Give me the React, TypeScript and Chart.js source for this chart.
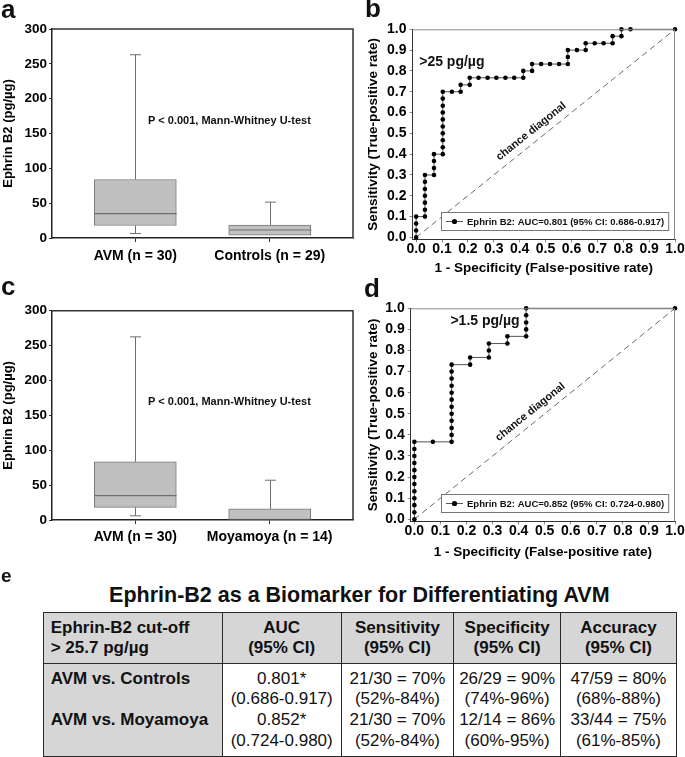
import React, { useEffect, useRef } from 'react';
import { Chart, registerables } from 'chart.js';

Chart.register(...registerables);

const FONT = 'Arial, "Liberation Sans", Helvetica, sans-serif';

// ---------- Panels a & c : box plots ----------
const boxTicks = [0, 50, 100, 150, 200, 250, 300];
const groupPositions = [1, 2];

const groupsA = ['AVM (n = 30)', 'Controls (n = 29)'];
const minA = [6.5, 4];
const q1A = [18, 4];
const medianA = [35, 11.5];
const q3A = [84, 18.5];
const maxA = [263, 51.5];

const groupsC = ['AVM (n = 30)', 'Moyamoya (n = 14)'];
const minC = [6, 0];
const q1C = [18, 0];
const medianC: (number | null)[] = [35, null];
const q3C = [83.5, 16];
const maxC = [262.5, 57];

const pValueText = 'P < 0.001, Mann-Whitney U-test';
const pValueAt = [1.7, 168.5];

// ---------- Panels b & d : ROC curves ----------
const rocTicks = [0, 0.1, 0.2, 0.3, 0.4, 0.5, 0.6, 0.7, 0.8, 0.9, 1.0];

const rocB_fpr = [
  0, 0, 0, 0,
  0.034, 0.034, 0.034, 0.034, 0.034, 0.034, 0.034,
  0.069, 0.069, 0.069, 0.069,
  0.103, 0.103, 0.103, 0.103, 0.103, 0.103, 0.103, 0.103, 0.103, 0.103,
  0.138, 0.172, 0.172,
  0.207, 0.207,
  0.241, 0.276, 0.310, 0.345, 0.379, 0.414, 0.414,
  0.448, 0.448,
  0.483, 0.517, 0.552, 0.586, 0.586, 0.586,
  0.621, 0.655, 0.655,
  0.690, 0.724, 0.759, 0.759,
  0.793, 0.793,
  0.828, 1.0,
];
const rocB_tpr = [
  0, 0.033, 0.067, 0.1,
  0.1, 0.133, 0.167, 0.2, 0.233, 0.267, 0.3,
  0.3, 0.333, 0.367, 0.4,
  0.4, 0.433, 0.467, 0.5, 0.533, 0.567, 0.6, 0.633, 0.667, 0.7,
  0.7, 0.7, 0.733,
  0.733, 0.767,
  0.767, 0.767, 0.767, 0.767, 0.767, 0.767, 0.8,
  0.8, 0.833,
  0.833, 0.833, 0.833, 0.833, 0.867, 0.9,
  0.9, 0.9, 0.933,
  0.933, 0.933, 0.933, 0.967,
  0.967, 1.0,
  1.0, 1.0,
];

const rocD_fpr = [
  0, 0, 0, 0, 0, 0, 0, 0, 0, 0, 0, 0,
  0.071, 0.143,
  0.143, 0.143, 0.143, 0.143, 0.143, 0.143, 0.143, 0.143, 0.143, 0.143, 0.143,
  0.214, 0.214,
  0.286, 0.286, 0.286,
  0.357, 0.357,
  0.429, 0.429, 0.429, 0.429, 0.429,
  1.0,
];
const rocD_tpr = [
  0, 0.033, 0.067, 0.1, 0.133, 0.167, 0.2, 0.233, 0.267, 0.3, 0.333, 0.367,
  0.367, 0.367,
  0.4, 0.433, 0.467, 0.5, 0.533, 0.567, 0.6, 0.633, 0.667, 0.7, 0.733,
  0.733, 0.767,
  0.767, 0.8, 0.833,
  0.833, 0.867,
  0.867, 0.9, 0.933, 0.967, 1.0,
  1.0,
];

const cutoffB = '>25 pg/µg';
const cutoffBAt = [0.138, 0.84];
const cutoffD = '>1.5 pg/µg';
const cutoffDAt = [0.271, 0.94];
const legendB = 'Ephrin B2: AUC=0.801 (95% CI: 0.686-0.917)';
const legendD = 'Ephrin B2: AUC=0.852 (95% CI: 0.724-0.980)';
const diagLabel = 'chance diagonal';
const diagLabelT = 0.47;

// ---------- Panel e : table ----------
const tableTitle = 'Ephrin-B2 as a Biomarker for Differentiating AVM';
const headerLines = [
  ['Ephrin-B2 cut-off', '> 25.7 pg/µg'],
  ['AUC', '(95% CI)'],
  ['Sensitivity', '(95% CI)'],
  ['Specificity', '(95% CI)'],
  ['Accuracy', '(95% CI)'],
];
const rowLabels = ['AVM vs. Controls', 'AVM vs. Moyamoya'];
const aucValues = ['0.801*', '0.852*'];
const aucCI = ['(0.686-0.917)', '(0.724-0.980)'];
const sensValues = ['21/30 = 70%', '21/30 = 70%'];
const sensCI = ['(52%-84%)', '(52%-84%)'];
const specValues = ['26/29 = 90%', '12/14 = 86%'];
const specCI = ['(74%-96%)', '(60%-95%)'];
const accValues = ['47/59 = 80%', '33/44 = 75%'];
const accCI = ['(68%-88%)', '(61%-85%)'];

// ---------- chart builders ----------
type Geom = {
  left: number; top: number; width: number; height: number;
  padTop: number; padRight: number; yAxisW: number; xAxisH: number;
  xTitlePad?: number; xTickPad: number;
};

const geomA: Geom = { left: 0, top: 0, width: 360, height: 280, padTop: 29, padRight: 7, yAxisW: 52, xAxisH: 42, xTickPad: 7 };
const geomC: Geom = { left: 0, top: 282, width: 360, height: 280, padTop: 28.7, padRight: 7, yAxisW: 52, xAxisH: 42, xTickPad: 6 };
const geomB: Geom = { left: 345, top: 0, width: 340, height: 290, padTop: 29.3, padRight: 10, yAxisW: 67.5, xAxisH: 50.5, xTitlePad: 13.5, xTickPad: 0 };
const geomD: Geom = { left: 345, top: 280, width: 340, height: 290, padTop: 28.3, padRight: 10, yAxisW: 65.7, xAxisH: 48.6, xTitlePad: 10, xTickPad: 0 };

function boxPlugin(mins: number[], q1s: number[], meds: (number | null)[], q3s: number[], maxs: number[]) {
  return {
    id: 'boxExtras',
    afterDatasetsDraw(chart: any) {
      const { ctx, scales } = chart;
      const x = scales.x, y = scales.y;
      const meta = chart.getDatasetMeta(0);
      ctx.save();
      ctx.strokeStyle = '#6e6e6e';
      ctx.lineWidth = 1;
      groupPositions.forEach((p, i) => {
        const px = Math.round(x.getPixelForValue(p)) + 0.5;
        const half = meta.data[i] ? meta.data[i].width / 2 : 41;
        const cap = 5.5;
        ctx.beginPath();
        // upper whisker
        ctx.moveTo(px, y.getPixelForValue(q3s[i]));
        ctx.lineTo(px, y.getPixelForValue(maxs[i]));
        ctx.moveTo(px - cap, y.getPixelForValue(maxs[i]));
        ctx.lineTo(px + cap, y.getPixelForValue(maxs[i]));
        // lower whisker
        if (mins[i] < q1s[i]) {
          ctx.moveTo(px, y.getPixelForValue(q1s[i]));
          ctx.lineTo(px, y.getPixelForValue(mins[i]));
          ctx.moveTo(px - cap, y.getPixelForValue(mins[i]));
          ctx.lineTo(px + cap, y.getPixelForValue(mins[i]));
        }
        ctx.stroke();
        const m = meds[i];
        if (m !== null && m !== undefined) {
          ctx.beginPath();
          ctx.lineWidth = 1.2;
          ctx.moveTo(px - half, y.getPixelForValue(m));
          ctx.lineTo(px + half, y.getPixelForValue(m));
          ctx.stroke();
          ctx.lineWidth = 1;
        }
      });
      ctx.restore();
    },
    afterDraw(chart: any) {
      const { ctx, chartArea: a, scales } = chart;
      ctx.save();
      ctx.strokeStyle = '#333';
      ctx.lineWidth = 1.5;
      ctx.beginPath();
      ctx.moveTo(a.left, a.top);
      ctx.lineTo(a.right, a.top);
      ctx.lineTo(a.right, a.bottom);
      ctx.stroke();
      ctx.fillStyle = '#111';
      ctx.font = `bold 11px ${FONT}`;
      ctx.textAlign = 'center';
      ctx.textBaseline = 'middle';
      ctx.fillText(pValueText, scales.x.getPixelForValue(pValueAt[0]), scales.y.getPixelForValue(pValueAt[1]));
      ctx.restore();
    },
  };
}

function makeBoxConfig(groups: string[], mins: number[], q1s: number[], meds: (number | null)[], q3s: number[], maxs: number[], g: Geom) {
  return {
    type: 'bar',
    data: {
      datasets: [
        {
          data: groupPositions.map((p, i) => ({ x: p, y: [q1s[i], q3s[i]] })),
          backgroundColor: '#c0c0c0',
          borderColor: '#7a7a7a',
          borderWidth: 1,
          borderSkipped: false,
          barThickness: 82,
        },
      ],
    },
    options: {
      responsive: false,
      animation: false,
      layout: { padding: { top: g.padTop, right: g.padRight, left: 0, bottom: 0 } },
      plugins: { legend: { display: false }, tooltip: { enabled: false } },
      scales: {
        x: {
          type: 'linear',
          min: 0.38,
          max: 2.62,
          offset: false,
          afterBuildTicks: (s: any) => { s.ticks = groupPositions.map((v) => ({ value: v })); },
          afterFit: (s: any) => { s.height = g.xAxisH; },
          ticks: {
            callback: (_v: any, i: number) => groups[i],
            font: { family: FONT, size: 14, weight: 'bold', lineHeight: 1 },
            color: '#000',
            padding: g.xTickPad,
            maxRotation: 0,
            autoSkip: false,
          },
          grid: { drawOnChartArea: false, drawTicks: true, tickLength: 4, color: '#333', offset: false },
          border: { color: '#222', width: 1.5 },
        },
        y: {
          min: 0,
          max: 300,
          afterBuildTicks: (s: any) => { s.ticks = boxTicks.map((v) => ({ value: v })); },
          afterFit: (s: any) => { s.width = g.yAxisW; },
          ticks: { font: { family: FONT, size: 13.5, weight: 'bold' }, color: '#000', padding: 2 },
          grid: { drawOnChartArea: false, drawTicks: true, tickLength: 3, color: '#333' },
          border: { color: '#222', width: 1.5 },
          title: {
            display: true,
            text: 'Ephrin B2 (pg/µg)',
            font: { family: FONT, size: 13, weight: 'bold' },
            color: '#000',
            padding: { top: 0.5, bottom: 0 },
          },
        },
      },
    },
    plugins: [boxPlugin(mins, q1s, meds, q3s, maxs)],
  };
}

function rocPlugin(cutoffText: string, cutoffAt: number[], legendText: string) {
  return {
    id: 'rocExtras',
    afterDraw(chart: any) {
      const { ctx, chartArea: a, scales } = chart;
      const x = scales.x, y = scales.y;
      ctx.save();
      // top & right frame
      ctx.strokeStyle = '#8c8c8c';
      ctx.lineWidth = 1;
      ctx.beginPath();
      ctx.moveTo(a.left, a.top + 0.5);
      ctx.lineTo(a.right - 0.5, a.top + 0.5);
      ctx.lineTo(a.right - 0.5, a.bottom);
      ctx.stroke();
      // cut-off label
      ctx.fillStyle = '#111';
      ctx.font = `bold 14px ${FONT}`;
      ctx.textAlign = 'center';
      ctx.textBaseline = 'middle';
      ctx.fillText(cutoffText, x.getPixelForValue(cutoffAt[0]), y.getPixelForValue(cutoffAt[1]));
      // chance diagonal label
      const x0 = x.getPixelForValue(0), y0 = y.getPixelForValue(0);
      const x1 = x.getPixelForValue(1), y1 = y.getPixelForValue(1);
      const ang = Math.atan2(y1 - y0, x1 - x0);
      ctx.save();
      ctx.translate(x0 + (x1 - x0) * diagLabelT, y0 + (y1 - y0) * diagLabelT);
      ctx.rotate(ang);
      ctx.font = `bold 11px ${FONT}`;
      ctx.fillText(diagLabel, 0, -10.5);
      ctx.restore();
      // legend box
      ctx.font = `bold 9.5px ${FONT}`;
      const tw = ctx.measureText(legendText).width;
      const h = 18;
      const w = 26 + tw + 4;
      const bx = Math.round(a.right - 7 - w);
      const by = Math.round(a.bottom - 9.5 - h);
      ctx.fillStyle = '#fff';
      ctx.fillRect(bx, by, w, h);
      ctx.strokeStyle = '#777';
      ctx.lineWidth = 1;
      ctx.strokeRect(bx + 0.5, by + 0.5, w, h);
      ctx.strokeStyle = '#555';
      ctx.beginPath();
      ctx.moveTo(bx + 5, by + h / 2 + 0.5);
      ctx.lineTo(bx + 22, by + h / 2 + 0.5);
      ctx.stroke();
      ctx.fillStyle = '#000';
      ctx.beginPath();
      ctx.arc(bx + 13.5, by + h / 2 + 0.5, 2.6, 0, Math.PI * 2);
      ctx.fill();
      ctx.fillStyle = '#111';
      ctx.textAlign = 'left';
      ctx.fillText(legendText, bx + 26, by + h / 2 + 1);
      ctx.restore();
    },
  };
}

function makeRocConfig(fpr: number[], tpr: number[], cutoffText: string, cutoffAt: number[], legendText: string, g: Geom) {
  const tickFont = { family: FONT, size: 14, weight: 'bold', lineHeight: 1 };
  const titleFont = { family: FONT, size: 13.5, weight: 'bold' };
  return {
    type: 'line',
    data: {
      datasets: [
        {
          data: fpr.map((v, i) => ({ x: v, y: tpr[i] })),
          borderColor: '#555',
          borderWidth: 1,
          pointRadius: 2.3,
          pointBackgroundColor: '#000',
          pointBorderColor: '#000',
          pointBorderWidth: 0,
          tension: 0,
          clip: false,
        },
        {
          data: [{ x: 0, y: 0 }, { x: 1, y: 1 }],
          borderColor: '#6a6a6a',
          borderWidth: 1,
          borderDash: [6, 4],
          pointRadius: 0,
          tension: 0,
        },
      ],
    },
    options: {
      responsive: false,
      animation: false,
      layout: { padding: { top: g.padTop, right: g.padRight, left: 0, bottom: 0 } },
      plugins: { legend: { display: false }, tooltip: { enabled: false } },
      scales: {
        x: {
          type: 'linear',
          min: -0.014,
          max: 1.0,
          afterBuildTicks: (s: any) => { s.ticks = rocTicks.map((v) => ({ value: v })); },
          afterFit: (s: any) => { s.height = g.xAxisH; },
          ticks: {
            callback: (v: any) => Number(v).toFixed(1),
            font: tickFont,
            color: '#000',
            padding: g.xTickPad,
            maxRotation: 0,
            autoSkip: false,
          },
          grid: { drawOnChartArea: false, drawTicks: true, tickLength: 3, color: '#888' },
          border: { color: '#333', width: 1 },
          title: {
            display: true,
            text: '1 - Specificity (False-positive rate)',
            font: titleFont,
            color: '#000',
            padding: { top: 0, bottom: g.xTitlePad },
          },
        },
        y: {
          min: -0.01,
          max: 1.0,
          afterBuildTicks: (s: any) => { s.ticks = rocTicks.map((v) => ({ value: v })); },
          afterFit: (s: any) => { s.width = g.yAxisW; },
          ticks: {
            callback: (v: any) => Number(v).toFixed(1),
            font: tickFont,
            color: '#000',
            padding: 3,
          },
          grid: { drawOnChartArea: false, drawTicks: true, tickLength: 3, color: '#888' },
          border: { color: '#333', width: 1 },
          title: {
            display: true,
            text: 'Sensitivity (True-positive rate)',
            font: titleFont,
            color: '#000',
            padding: { top: 19.9, bottom: 0 },
          },
        },
      },
    },
    plugins: [rocPlugin(cutoffText, cutoffAt, legendText)],
  };
}

function ChartCanvas({ build, g }: { build: () => any; g: Geom }) {
  const ref = useRef<HTMLCanvasElement | null>(null);
  useEffect(() => {
    if (!ref.current) return;
    const chart = new Chart(ref.current, build());
    return () => chart.destroy();
  }, []);
  return (
    <canvas
      ref={ref}
      width={g.width}
      height={g.height}
      style={{ position: 'absolute', left: g.left, top: g.top, width: g.width, height: g.height }}
    />
  );
}

const letterStyle = (left: number, top: number, size: number): React.CSSProperties => ({
  position: 'absolute',
  left,
  top,
  fontFamily: FONT,
  fontWeight: 'bold',
  fontSize: size,
  lineHeight: `${size}px`,
  color: '#111',
});

const colWidths = [179, 119, 112.6, 106.7, 116];
const GRAY = '#d6d6d6';
const BORDER = '1.5px solid #2a2a2a';

function BodyCell({ lines, bold, align, bg }: { lines: string[]; bold: boolean; align: 'left' | 'center'; bg: string }) {
  return (
    <td
      style={{
        border: BORDER,
        background: bg,
        padding: align === 'left' ? '0 0 0 7px' : 0,
        verticalAlign: 'middle',
        textAlign: align,
        fontWeight: bold ? 'bold' : 'normal',
        whiteSpace: 'nowrap',
      }}
    >
      {lines.map((l, i) => (
        <div key={i} style={{ height: 20.7, lineHeight: '20.7px' }}>{l}</div>
      ))}
    </td>
  );
}

export default function App() {
  const bodyColumns = [
    [aucValues[0], aucCI[0], aucValues[1], aucCI[1]],
    [sensValues[0], sensCI[0], sensValues[1], sensCI[1]],
    [specValues[0], specCI[0], specValues[1], specCI[1]],
    [accValues[0], accCI[0], accValues[1], accCI[1]],
  ];
  return (
    <div style={{ position: 'absolute', left: 0, top: 0, width: 685, height: 757, background: '#fff', overflow: 'hidden' }}>
      <ChartCanvas g={geomA} build={() => makeBoxConfig(groupsA, minA, q1A, medianA, q3A, maxA, geomA)} />
      <ChartCanvas g={geomC} build={() => makeBoxConfig(groupsC, minC, q1C, medianC, q3C, maxC, geomC)} />
      <ChartCanvas g={geomB} build={() => makeRocConfig(rocB_fpr, rocB_tpr, cutoffB, cutoffBAt, legendB, geomB)} />
      <ChartCanvas g={geomD} build={() => makeRocConfig(rocD_fpr, rocD_tpr, cutoffD, cutoffDAt, legendD, geomD)} />

      <div style={letterStyle(1, -4, 26)}>a</div>
      <div style={letterStyle(365, -5, 26)}>b</div>
      <div style={letterStyle(1, 273, 26)}>c</div>
      <div style={letterStyle(364, 275, 26)}>d</div>
      <div style={letterStyle(1, 565.6, 19)}>e</div>

      <div
        style={{
          position: 'absolute',
          left: 42.7,
          width: 633.3,
          top: 585,
          textAlign: 'center',
          fontFamily: FONT,
          fontWeight: 'bold',
          fontSize: 21.5,
          lineHeight: '21.5px',
          color: '#111',
          whiteSpace: 'nowrap',
        }}
      >
        {tableTitle}
      </div>

      <table
        style={{
          position: 'absolute',
          left: 42.7,
          top: 611.7,
          width: 633.3,
          borderCollapse: 'collapse',
          tableLayout: 'fixed',
          fontFamily: FONT,
          fontSize: 17,
          color: '#111',
        }}
      >
        <colgroup>
          {colWidths.map((w, i) => <col key={i} style={{ width: w }} />)}
        </colgroup>
        <tbody>
          <tr style={{ height: 51.6 }}>
            {headerLines.map((lines, i) => (
              <td
                key={i}
                style={{
                  border: BORDER,
                  background: GRAY,
                  padding: i === 0 ? '0 0 0 7px' : 0,
                  textAlign: i === 0 ? 'left' : 'center',
                  fontWeight: 'bold',
                  verticalAlign: 'middle',
                  whiteSpace: 'nowrap',
                }}
              >
                {lines.map((l, j) => (
                  <div key={j} style={{ height: 20, lineHeight: '20px' }}>{l}</div>
                ))}
              </td>
            ))}
          </tr>
          <tr style={{ height: 92.7 }}>
            <BodyCell lines={[rowLabels[0], '\u00a0', rowLabels[1], '\u00a0']} bold align="left" bg={GRAY} />
            {bodyColumns.map((lines, i) => (
              <BodyCell key={i} lines={lines} bold={false} align="center" bg="#fff" />
            ))}
          </tr>
        </tbody>
      </table>
    </div>
  );
}
